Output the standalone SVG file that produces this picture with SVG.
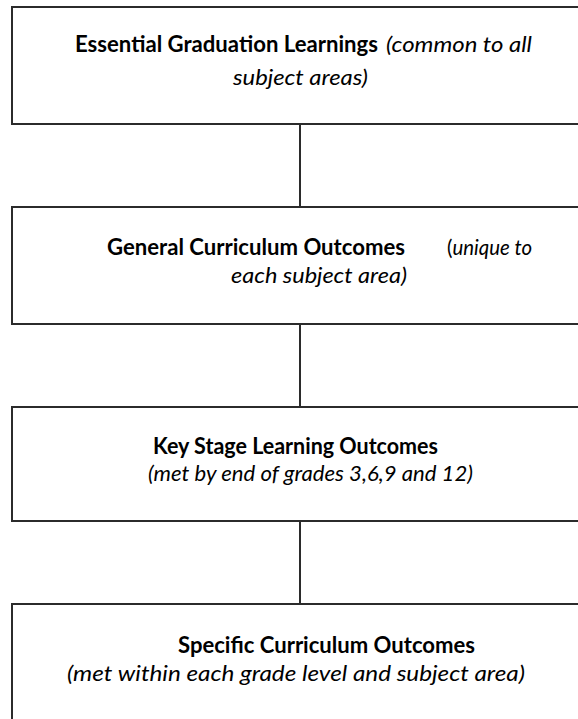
<svg xmlns="http://www.w3.org/2000/svg" width="578" height="719" viewBox="0 0 578 719">
  <style>
    .box { fill: #ffffff; stroke: #2b2b2b; stroke-width: 2; }
    .link { stroke: #2b2b2b; stroke-width: 2; fill: none; }
    text { font-family: Lato, "Open Sans", "Liberation Sans", sans-serif; font-size: 22px; fill: #000000; }
    .b { font-weight: bold; }
    .i { font-style: italic; }
  </style>
  <rect width="578" height="719" fill="#ffffff"/>

  <g id="connectors">
    <line class="link" x1="300" y1="124" x2="300" y2="207"/>
    <line class="link" x1="300" y1="324" x2="300" y2="407"/>
    <line class="link" x1="300" y1="521" x2="300" y2="604"/>
  </g>

  <g id="essential-graduation-learnings">
    <rect class="box" x="12" y="7" width="580" height="117"/>
    <text x="75" y="52" class="b" textLength="303" lengthAdjust="spacingAndGlyphs">Essential Graduation Learnings</text>
    <text x="386" y="52" class="i" textLength="146" lengthAdjust="spacingAndGlyphs">(common to all</text>
    <text x="233" y="85" class="i" textLength="135" lengthAdjust="spacingAndGlyphs">subject areas)</text>
  </g>

  <g id="general-curriculum-outcomes">
    <rect class="box" x="12" y="207" width="580" height="117"/>
    <text x="107" y="255" class="b" textLength="298" lengthAdjust="spacingAndGlyphs">General Curriculum Outcomes</text>
    <text x="447" y="255" textLength="85" lengthAdjust="spacingAndGlyphs">(<tspan class="i">unique to</tspan></text>
    <text x="231" y="283" class="i" textLength="176" lengthAdjust="spacingAndGlyphs">each subject area)</text>
  </g>

  <g id="key-stage-learning-outcomes">
    <rect class="box" x="12" y="407" width="580" height="114"/>
    <text x="153" y="454" class="b" textLength="285" lengthAdjust="spacingAndGlyphs">Key Stage Learning Outcomes</text>
    <text x="148" y="481" class="i" textLength="325" lengthAdjust="spacingAndGlyphs">(met by end of grades 3,6,9 and 12)</text>
  </g>

  <g id="specific-curriculum-outcomes">
    <rect class="box" x="12" y="604" width="580" height="130"/>
    <text x="178" y="653" class="b" textLength="297" lengthAdjust="spacingAndGlyphs">Specific Curriculum Outcomes</text>
    <text x="67" y="681" class="i" textLength="458" lengthAdjust="spacingAndGlyphs">(met within each grade level and subject area)</text>
  </g>
</svg>
